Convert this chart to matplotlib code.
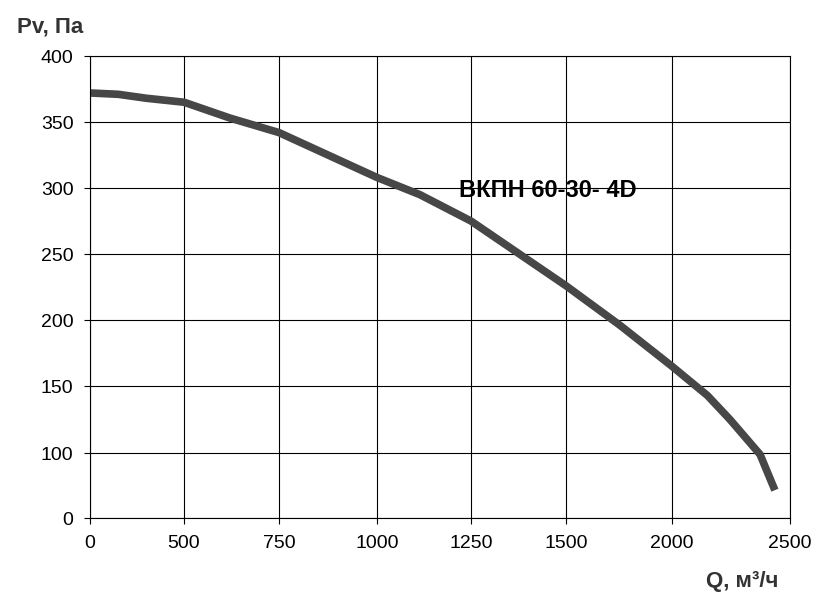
import numpy as np
import matplotlib
matplotlib.use("Agg")
import matplotlib.pyplot as plt

x_ticks = [0, 500, 750, 1000, 1250, 1500, 2000, 2500]
x_tick_labels = ["0", "500", "750", "1000", "1250", "1500", "2000", "2500"]
y_ticks = [0, 100, 150, 200, 250, 300, 350, 400]

q = [0, 150, 300, 500, 621, 750, 1000, 1114, 1250, 1500, 1755, 2000, 2150, 2246, 2373, 2436]
pv = [372, 371, 368, 365, 353, 342, 308, 295, 275, 226, 196, 165, 143, 125, 98, 43]

plt.rcParams['font.family'] = ['Liberation Sans', 'DejaVu Sans']
xpos = np.array([90, 184, 279, 377, 471, 566, 672, 790], dtype=float)
ypos = np.array([0, 65, 132, 198, 264, 330, 396, 462], dtype=float)
fx = lambda v: np.interp(v, x_ticks, xpos)
ix = lambda p: np.interp(p, xpos, x_ticks)
fy = lambda v: np.interp(v, y_ticks, ypos)
iy = lambda p: np.interp(p, ypos, y_ticks)

fig = plt.figure(figsize=(8.35, 5.99), dpi=100)
ax = fig.add_axes([0.1078, 0.135, 0.8383, 0.7715])
ax.set_xscale('function', functions=(fx, ix))
ax.set_yscale('function', functions=(fy, iy))
ax.plot(q, pv, color='#474747', lw=5.5, solid_capstyle='butt', solid_joinstyle='round')
ax.set_xlim(0, 2500)
ax.set_ylim(0, 400)
ax.set_xticks(x_ticks)
ax.set_xticklabels(x_tick_labels)
ax.set_yticks(y_ticks)
ax.minorticks_off()
ax.grid(True, color='black', lw=0.8)
for s in ax.spines.values():
    s.set_linewidth(0.8)
ax.tick_params(labelsize=14, direction='out', length=4, pad=8)
ax.text(0.527, 0.71, "ВКПН 60-30- 4D", transform=ax.transAxes, fontsize=17,
        fontweight='bold', ha='left', va='center')
fig.text(0.02, 0.945, "Pv, Па", fontsize=16, fontweight='bold', color='#333333')
fig.text(0.845, 0.02, "Q, м³/ч", fontsize=16, fontweight='bold', color='#333333')
fig.savefig("out.png", dpi=100)
